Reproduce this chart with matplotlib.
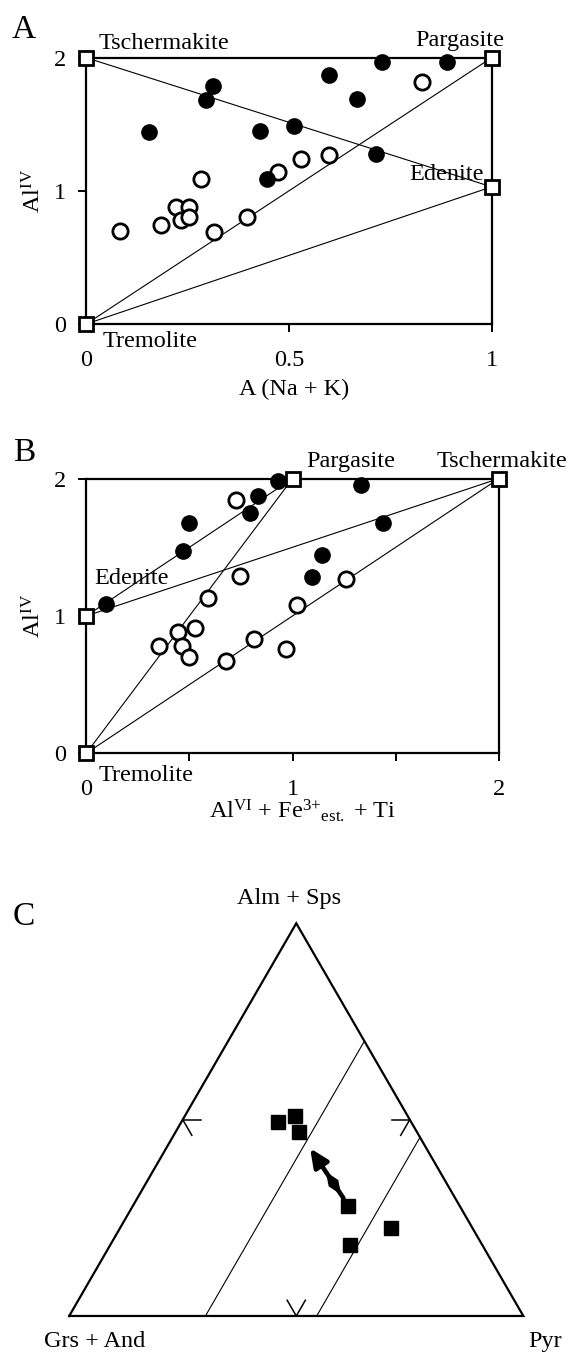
import numpy as np
import matplotlib
matplotlib.use('Agg')
import matplotlib.pyplot as plt
from matplotlib.patches import Polygon

plt.rcParams['font.family'] = ['Liberation Serif', 'DejaVu Serif']
plt.rcParams['mathtext.fontset'] = 'custom'
plt.rcParams['mathtext.rm'] = 'Liberation Serif'
plt.rcParams['mathtext.it'] = 'Liberation Serif:italic'
plt.rcParams['mathtext.bf'] = 'Liberation Serif:bold'

FS = 17.5

# ---- panel A: Al(IV) vs A (Na + K)
a_filled_x = [0.155, 0.312, 0.295, 0.429, 0.513, 0.598, 0.729, 0.890, 0.669, 0.715, 0.446]
a_filled_y = [1.44, 1.79, 1.68, 1.45, 1.49, 1.87, 1.97, 1.97, 1.69, 1.28, 1.09]
a_open_x = [0.829, 0.529, 0.598, 0.474, 0.284, 0.084, 0.185, 0.221, 0.254, 0.234, 0.254, 0.315, 0.396]
a_open_y = [1.82, 1.24, 1.27, 1.14, 1.09, 0.70, 0.74, 0.88, 0.88, 0.78, 0.80, 0.69, 0.80]
a_end_names = ['Tremolite', 'Edenite', 'Pargasite', 'Tschermakite']
a_end_x = [0, 1, 1, 0]
a_end_y = [0, 1.03, 2, 2]
a_lines = [('Tschermakite', 'Edenite'), ('Tremolite', 'Pargasite'), ('Tremolite', 'Edenite')]

# ---- panel B: Al(IV) vs Al(VI) + Fe3+ + Ti
b_filled_x = [0.931, 0.831, 0.792, 0.496, 0.469, 1.332, 1.438, 1.143, 1.095, 0.094]
b_filled_y = [1.98, 1.87, 1.75, 1.68, 1.47, 1.95, 1.68, 1.44, 1.28, 1.085]
b_open_x = [0.725, 0.746, 1.258, 0.591, 1.02, 0.529, 0.446, 0.353, 0.464, 0.499, 0.679, 0.811, 0.968]
b_open_y = [1.845, 1.29, 1.27, 1.13, 1.08, 0.915, 0.88, 0.78, 0.78, 0.70, 0.675, 0.83, 0.76]
b_end_names = ['Tremolite', 'Edenite', 'Pargasite', 'Tschermakite']
b_end_x = [0, 0, 1, 2]
b_end_y = [0, 1, 2, 2]
b_lines = [('Edenite', 'Pargasite'), ('Edenite', 'Tschermakite'),
           ('Tremolite', 'Pargasite'), ('Tremolite', 'Tschermakite')]

# ---- panel C: garnet ternary (Alm+Sps, Pyr fractions)
c_alm = [0.493, 0.509, 0.469, 0.280, 0.223, 0.181]
c_pyr = [0.213, 0.243, 0.271, 0.475, 0.598, 0.527]
c_pyr_lines = [0.30, 0.545]
c_arrow_from = (0.300, 0.454)
c_arrow_to = (0.427, 0.317)

fig = plt.figure(figsize=(5.71, 13.55), dpi=100)


def end_members(ax, names, xs, ys, lines):
    pos = dict(zip(names, zip(xs, ys)))
    for p, q in lines:
        ax.plot([pos[p][0], pos[q][0]], [pos[p][1], pos[q][1]], color='k', lw=0.8, zorder=2)
    ax.plot(xs, ys, 's', ms=9.5, mfc='white', mec='k', mew=2, clip_on=False, zorder=5)
    return pos


def style_axes(ax):
    for s in ax.spines.values():
        s.set_linewidth(1.6)
    ax.tick_params(which='both', direction='out', length=5.5, width=1.4, labelsize=FS)
    ax.tick_params(axis='x', which='both', pad=13)
    ax.tick_params(axis='y', pad=9)


# A
ax = fig.add_axes([0.1511, 0.7609, 0.7098, 0.1965])
ax.set_xlim(0, 1)
ax.set_ylim(0, 2)
pos = end_members(ax, a_end_names, a_end_x, a_end_y, a_lines)
ax.plot(a_open_x, a_open_y, 'o', ms=11, mfc='white', mec='k', mew=2, zorder=4, clip_on=False)
ax.plot(a_filled_x, a_filled_y, 'o', ms=11, mfc='k', mec='k', zorder=4, clip_on=False)
ax.set_xticks([0, 0.5, 1])
ax.set_xticklabels(['0', '0.5', '1'])
ax.set_yticks([0, 1, 2])
style_axes(ax)
ax.set_xlabel('A (Na + K)', fontsize=FS)
ax.xaxis.set_label_coords(0.513, -0.205)
ax.set_ylabel(r'Al$^{\mathrm{IV}}$', fontsize=FS)
ax.yaxis.set_label_coords(-0.10, 0.5)
ax.text(0.031, 2.105, 'Tschermakite', fontsize=FS, ha='left', va='center')
ax.text(1.031, 2.13, 'Pargasite', fontsize=FS, ha='right', va='center')
ax.text(0.982, 1.12, 'Edenite', fontsize=FS, ha='right', va='center')
ax.text(0.039, -0.135, 'Tremolite', fontsize=FS, ha='left', va='center')
fig.text(12 / 571, 1 - 30 / 1355, 'A', fontsize=24, ha='left', va='center')

# B
ax = fig.add_axes([0.1511, 0.4441, 0.7226, 0.2027])
ax.set_xlim(0, 2)
ax.set_ylim(0, 2)
end_members(ax, b_end_names, b_end_x, b_end_y, b_lines)
ax.plot(b_open_x, b_open_y, 'o', ms=11, mfc='white', mec='k', mew=2, zorder=4, clip_on=False)
ax.plot(b_filled_x, b_filled_y, 'o', ms=11, mfc='k', mec='k', zorder=4, clip_on=False)
ax.set_xticks([0, 1, 2])
ax.set_xticks([0.5, 1.5], minor=True)
ax.set_yticks([0, 1, 2])
style_axes(ax)
ax.set_xlabel(r'Al$^{\mathrm{VI}}$ + Fe$^{3{+}}$$_{\mathrm{est.}}$ + Ti', fontsize=FS)
ax.xaxis.set_label_coords(0.523, -0.16)
ax.set_ylabel(r'Al$^{\mathrm{IV}}$', fontsize=FS)
ax.yaxis.set_label_coords(-0.10, 0.5)
ax.text(1.068, 2.125, 'Pargasite', fontsize=FS, ha='left', va='center')
ax.text(1.696, 2.125, 'Tschermakite', fontsize=FS, ha='left', va='center')
ax.text(0.041, 1.276, 'Edenite', fontsize=FS, ha='left', va='center')
ax.text(0.058, -0.162, 'Tremolite', fontsize=FS, ha='left', va='center')
fig.text(13 / 571, 1 - 453 / 1355, 'B', fontsize=24, ha='left', va='center')

# C
h = np.sqrt(3) / 2


def tern(alm, pyr):
    alm = np.asarray(alm, dtype=float)
    pyr = np.asarray(pyr, dtype=float)
    return pyr + alm / 2, alm * h


ax = fig.add_axes([0.1212, 0.0288, 0.7953, 0.2898])
ax.set_xlim(0, 1)
ax.set_ylim(0, h)
ax.axis('off')

tx, ty = tern([0, 1, 0, 0], [0, 0, 1, 0])
ax.plot(tx, ty, color='k', lw=1.6, clip_on=False, solid_joinstyle='miter')

for p in c_pyr_lines:
    lx, ly = tern([0, 1 - p], [p, p])
    ax.plot(lx, ly, color='k', lw=0.8)

# 50 % ticks at the middle of each edge
tl = 0.04
ticks = [((0.5, 0.0), [(0.5, tl), (0.5 - tl, tl)]),
         ((0.5, 0.5), [(0.5, 0.5 - tl), (0.5 - tl, 0.5)]),
         ((0.0, 0.5), [(tl, 0.5 - tl), (tl, 0.5)])]
for start, ends in ticks:
    for e in ends:
        sx, sy = tern([start[0], e[0]], [start[1], e[1]])
        ax.plot(sx, sy, color='k', lw=1.1)

px, py = tern(c_alm, c_pyr)
ax.plot(px, py, 's', ms=9.5, color='k', zorder=5)

ax0, ay0 = tern(*c_arrow_from)
ax1, ay1 = tern(*c_arrow_to)
ax.annotate('', xy=(ax1, ay1), xytext=(ax0, ay0),
            arrowprops=dict(arrowstyle='-|>,head_length=1.1,head_width=0.5',
                            lw=3.3, color='k', shrinkA=0, shrinkB=0))
# thickened (fletched) part near the tail
d = np.array([ax1 - ax0, ay1 - ay0])
n = np.array([-d[1], d[0]]) / np.hypot(*d)
c0 = np.array([ax0, ay0]) + 0.3 * d
L = 0.2
W = 0.011
diamond = [c0 - L * d, c0 + n * W, c0 + L * d, c0 - n * W]
ax.add_patch(Polygon(diamond, closed=True, color='k', zorder=4))

ax.text(0.485, 1.062 * h, 'Alm + Sps', fontsize=FS, ha='center', va='center')
ax.text(0.055, -0.066 * h, 'Grs + And', fontsize=FS, ha='center', va='center')
ax.text(1.048, -0.066 * h, 'Pyr', fontsize=FS, ha='center', va='center')
fig.text(13 / 571, 1 - 917 / 1355, 'C', fontsize=24, ha='left', va='center')

fig.savefig('out.png', dpi=100)
